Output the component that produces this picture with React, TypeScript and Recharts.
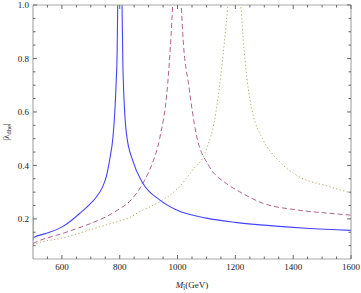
import React from "react";
import { LineChart, Line, XAxis, YAxis } from "recharts";

// Blue solid: resonance at ~800 GeV
const blueM = [500, 500.3, 502, 547, 604, 636, 662, 690, 720, 740, 754, 765, 777, 783, 788, 791, 793, 800, 808, 811, 823, 846, 880, 938, 995, 1100, 1200, 1329, 1444, 1600];
const blueV = [0.21, 0.12, 0.13, 0.146, 0.172, 0.197, 0.221, 0.248, 0.283, 0.318, 0.36, 0.42, 0.51, 0.6, 0.72, 0.82, 1.0, 1.5, 1.0, 0.77, 0.52, 0.415, 0.333, 0.271, 0.234, 0.203, 0.187, 0.174, 0.165, 0.157];

// Red dashed: resonance at ~1000 GeV
const redM = [500, 524, 580, 639, 700, 754, 800, 834, 880, 910, 938, 966, 978, 983, 998, 1013, 1018, 1040, 1064, 1110, 1168, 1214, 1294, 1409, 1524, 1600];
const redV = [0.108, 0.12, 0.138, 0.159, 0.183, 0.209, 0.238, 0.265, 0.333, 0.4, 0.5, 0.707, 0.894, 1.0, 1.4, 1.0, 0.894, 0.69, 0.52, 0.396, 0.333, 0.302, 0.259, 0.234, 0.221, 0.214];

// Yellow dotted: resonance at ~1200 GeV
const yelM = [500, 524, 600, 639, 700, 754, 800, 834, 869, 900, 944, 1000, 1050, 1100, 1133, 1156, 1173, 1196, 1219, 1227, 1240, 1259, 1294, 1352, 1409, 1524, 1600];
const yelV = [0.103, 0.112, 0.128, 0.14, 0.16, 0.178, 0.192, 0.205, 0.227, 0.243, 0.268, 0.313, 0.38, 0.46, 0.6, 0.8, 0.99, 1.4, 1.0, 0.875, 0.725, 0.6, 0.5, 0.415, 0.365, 0.321, 0.297];

const xTicks = [550, 600, 650, 700, 750, 800, 850, 900, 950, 1000, 1050, 1100, 1150, 1200, 1250, 1300, 1350, 1400, 1450, 1500, 1550, 1600];
const yTicks = [0.1, 0.15, 0.2, 0.25, 0.3, 0.35, 0.4, 0.45, 0.5, 0.55, 0.6, 0.65, 0.7, 0.75, 0.8, 0.85, 0.9, 0.95, 1.0];

const toData = (m: number[], v: number[]) => m.map((x, i) => ({ m: x, v: v[i] }));
const blueData = toData(blueM, blueV);
const redData = toData(redM, redV);
const yelData = toData(yelM, yelV);

const FONT = "'Liberation Serif', 'Times New Roman', serif";
const TICK = "#666";
const FRAME = "#aaa";

const isMajorX = (v: number) => v % 200 === 0;
const isMajorY = (v: number) => Math.abs(v * 5 - Math.round(v * 5)) < 1e-6;

const BottomTick = (props: any) => {
  const { x, y, payload } = props;
  const v = payload.value;
  const major = isMajorX(v);
  const axisY = y - 8;
  return (
    <g>
      <line x1={x} x2={x} y1={axisY} y2={axisY - (major ? 4 : 2.5)} stroke={TICK} strokeWidth={1} />
      {major && (
        <text x={x} y={axisY + 11} textAnchor="middle" fontFamily={FONT} fontSize={9} fill="#222">
          {v}
        </text>
      )}
    </g>
  );
};

const TopTick = (props: any) => {
  const { x, y, payload } = props;
  const major = isMajorX(payload.value);
  return <line x1={x} x2={x} y1={y} y2={y + (major ? 4 : 2.5)} stroke={TICK} strokeWidth={1} />;
};

const LeftTick = (props: any) => {
  const { x, y, payload } = props;
  const v = payload.value;
  const major = isMajorY(v);
  const axisX = x + 4;
  return (
    <g>
      <line x1={axisX} x2={axisX + (major ? 4 : 2.5)} y1={y} y2={y} stroke={TICK} strokeWidth={1} />
      {major && (
        <text x={axisX - 4} y={y} dy="0.35em" textAnchor="end" fontFamily={FONT} fontSize={9} fill="#222">
          {v.toFixed(1)}
        </text>
      )}
    </g>
  );
};

const RightTick = (props: any) => {
  const { x, y, payload } = props;
  const major = isMajorY(payload.value);
  return <line x1={x} x2={x - (major ? 4 : 2.5)} y1={y} y2={y} stroke={TICK} strokeWidth={1} />;
};

const XLabel = (props: any) => {
  const vb = props.viewBox || { x: 33, y: 259, width: 318, height: 34 };
  const cx = vb.x + vb.width / 2;
  return (
    <text x={cx} y={vb.y + 29} textAnchor="middle" fontFamily={FONT} fontSize={9} fill="#222">
      <tspan fontStyle="italic">M</tspan>
      <tspan fontSize={6.5} dy={2}>l̃</tspan>
      <tspan dy={-2}>(GeV)</tspan>
    </text>
  );
};

const YLabel = (props: any) => {
  const vb = props.viewBox || { x: 0, y: 5, width: 33, height: 254 };
  const cy = vb.y + vb.height / 2;
  const cx = 9;
  return (
    <text x={cx} y={cy} transform={`rotate(-90 ${cx} ${cy})`} textAnchor="middle" fontFamily={FONT} fontSize={9} fill="#222">
      <tspan>|λ</tspan>
      <tspan fontSize={6.5} dy={2}>dhe</tspan>
      <tspan dy={-2}>|</tspan>
    </text>
  );
};

export default function App() {
  return (
    <div style={{ position: "absolute", left: 0, top: 0, background: "#fff" }}>
      <LineChart width={361} height={293} margin={{ top: 0, right: 0, bottom: 0, left: 0 }}>
        <XAxis
          xAxisId="b"
          dataKey="m"
          type="number"
          domain={[500, 1600]}
          allowDataOverflow
          ticks={xTicks}
          height={34}
          tickSize={0}
          tickMargin={8}
          tickLine={false}
          axisLine={{ stroke: FRAME, strokeWidth: 1.2 }}
          tick={<BottomTick />}
          interval={0}
          label={<XLabel />}
        />
        <XAxis
          xAxisId="t"
          orientation="top"
          dataKey="m"
          type="number"
          domain={[500, 1600]}
          allowDataOverflow
          ticks={xTicks}
          height={5}
          tickSize={0}
          tickMargin={0}
          tickLine={false}
          axisLine={{ stroke: FRAME, strokeWidth: 1.2 }}
          tick={<TopTick />}
          interval={0}
        />
        <YAxis
          yAxisId="l"
          dataKey="v"
          type="number"
          domain={[0.05, 1.0]}
          allowDataOverflow
          ticks={yTicks}
          width={33}
          tickSize={0}
          tickMargin={4}
          tickLine={false}
          axisLine={{ stroke: FRAME, strokeWidth: 1.2 }}
          tick={<LeftTick />}
          interval={0}
          label={<YLabel />}
        />
        <YAxis
          yAxisId="r"
          orientation="right"
          dataKey="v"
          type="number"
          domain={[0.05, 1.0]}
          allowDataOverflow
          ticks={yTicks}
          width={10}
          tickSize={0}
          tickMargin={0}
          tickLine={false}
          axisLine={{ stroke: FRAME, strokeWidth: 1.2 }}
          tick={<RightTick />}
          interval={0}
        />
        <Line
          xAxisId="b"
          yAxisId="l"
          data={yelData}
          dataKey="v"
          type="monotone"
          stroke="#bba95e"
          strokeWidth={1}
          strokeDasharray="1.2 2.4"
          dot={false}
          isAnimationActive={false}
        />
        <Line
          xAxisId="b"
          yAxisId="l"
          data={redData}
          dataKey="v"
          type="monotone"
          stroke="#b4628e"
          strokeWidth={1}
          strokeDasharray="5 3"
          dot={false}
          isAnimationActive={false}
        />
        <Line
          xAxisId="b"
          yAxisId="l"
          data={blueData}
          dataKey="v"
          type="monotone"
          stroke="#4444ff"
          strokeWidth={1.1}
          dot={false}
          isAnimationActive={false}
        />
      </LineChart>
    </div>
  );
}
